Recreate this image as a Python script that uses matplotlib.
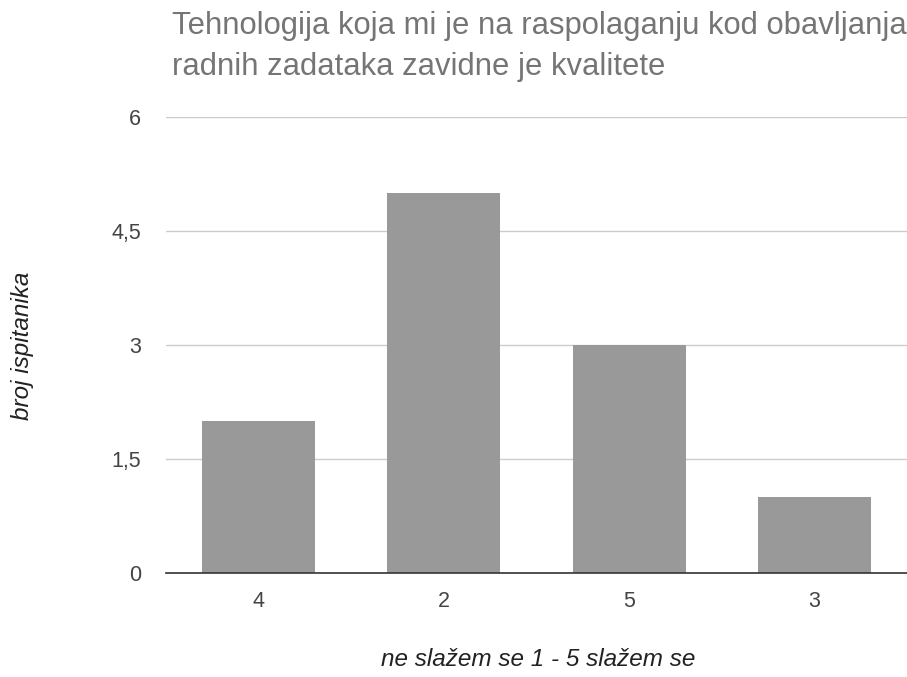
import matplotlib
matplotlib.use("Agg")
import matplotlib.pyplot as plt

categories = ["4", "2", "5", "3"]
counts = [2, 5, 3, 1]
y_ticks = [0, 1.5, 3, 4.5, 6]
y_tick_labels = ["0", "1,5", "3", "4,5", "6"]

title = "Tehnologija koja mi je na raspolaganju kod obavljanja\nradnih zadataka zavidne je kvalitete"

plt.rcParams["font.family"] = ["Liberation Sans", "DejaVu Sans"]

fig = plt.figure(figsize=(9.07, 6.77), dpi=100)
ax = fig.add_axes([0.183, 0.1536, 0.817, 0.6736])

x = list(range(len(categories)))
ax.bar(x, counts, width=0.61, color="#999999", zorder=2)

ax.set_xlim(-0.5, len(categories) - 0.5)
ax.set_ylim(0, 6)
ax.set_yticks(y_ticks)
ax.set_yticklabels(y_tick_labels)
ax.set_xticks(x)
ax.set_xticklabels(categories)
ax.tick_params(axis="both", length=0, labelsize=15.5, colors="#444444")
ax.tick_params(axis="y", pad=18)
ax.tick_params(axis="x", pad=13)
ax.grid(axis="y", color="#cccccc", linewidth=1, zorder=0)

for side in ["top", "right", "left"]:
    ax.spines[side].set_visible(False)
ax.spines["bottom"].set_color("#333333")
ax.spines["bottom"].set_linewidth(1.2)
ax.spines["bottom"].set_zorder(3)

fig.text(172 / 907, 1 - 11 / 677, title, fontsize=22.3, color="#757575",
         ha="left", va="top", linespacing=1.5)
fig.text(23 / 907, 1 - 346 / 677, "broj ispitanika", rotation=90, style="italic",
         fontsize=17.5, color="#222222", ha="center", va="center")
fig.text(538 / 907, 1 - 660 / 677, "ne slažem se 1 - 5 slažem se", style="italic",
         fontsize=17.5, color="#222222", ha="center", va="center")

fig.savefig("out.png", dpi=100)
